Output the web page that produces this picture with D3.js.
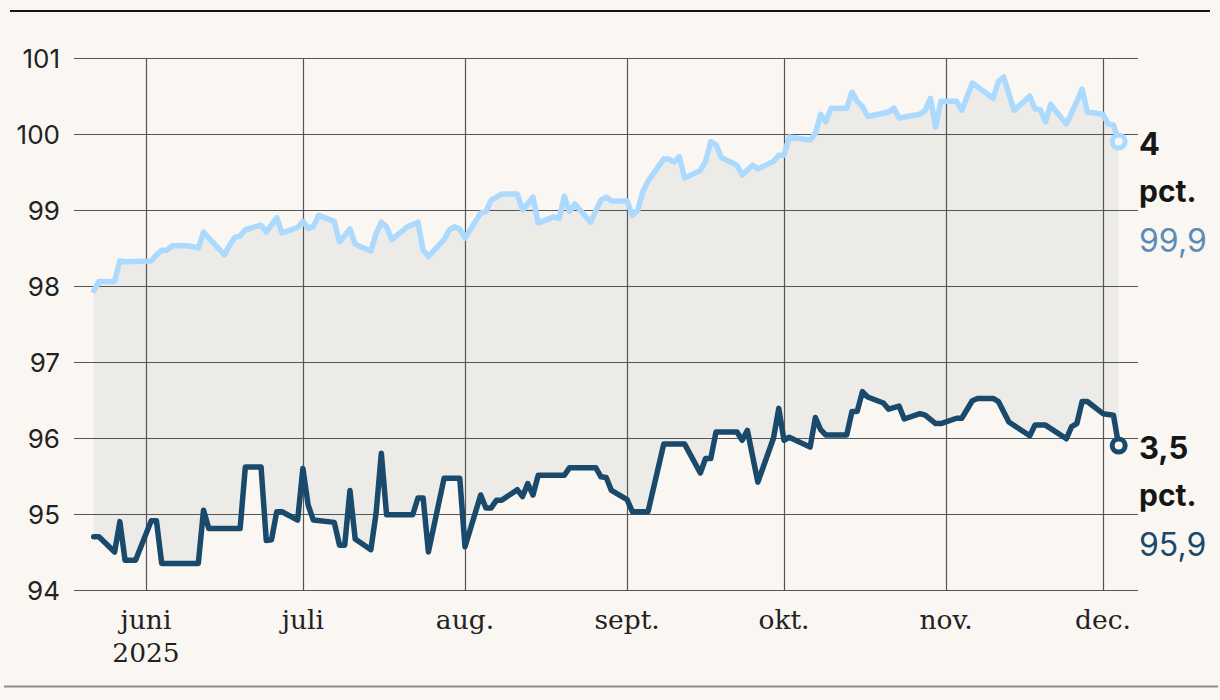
<!DOCTYPE html>
<html>
<head>
<meta charset="utf-8">
<script src="https://cdn.jsdelivr.net/npm/d3@7"></script>
<style>
  html, body { margin: 0; padding: 0; background: #faf7f2; }
  svg { display: block; }
</style>
</head>
<body>
<svg id="chart" width="1220" height="700"></svg>
<script>
// ---- Data ----
const lightDates = ["2025-05-22","2025-05-23","2025-05-26","2025-05-27","2025-05-28","2025-06-02","2025-06-03","2025-06-04","2025-06-05","2025-06-06","2025-06-09","2025-06-11","2025-06-12","2025-06-16","2025-06-17","2025-06-18","2025-06-19","2025-06-20","2025-06-23","2025-06-24","2025-06-26","2025-06-27","2025-06-30","2025-07-01","2025-07-02","2025-07-03","2025-07-04","2025-07-07","2025-07-08","2025-07-10","2025-07-11","2025-07-14","2025-07-15","2025-07-16","2025-07-17","2025-07-18","2025-07-21","2025-07-23","2025-07-24","2025-07-25","2025-07-28","2025-07-29","2025-07-30","2025-07-31","2025-08-01","2025-08-04","2025-08-05","2025-08-06","2025-08-08","2025-08-11","2025-08-12","2025-08-14","2025-08-15","2025-08-18","2025-08-19","2025-08-20","2025-08-21","2025-08-22","2025-08-25","2025-08-27","2025-08-28","2025-08-29","2025-09-01","2025-09-02","2025-09-03","2025-09-04","2025-09-05","2025-09-08","2025-09-09","2025-09-10","2025-09-11","2025-09-12","2025-09-15","2025-09-16","2025-09-17","2025-09-18","2025-09-19","2025-09-22","2025-09-23","2025-09-25","2025-09-26","2025-09-29","2025-09-30","2025-10-01","2025-10-02","2025-10-06","2025-10-07","2025-10-08","2025-10-09","2025-10-10","2025-10-13","2025-10-14","2025-10-15","2025-10-16","2025-10-17","2025-10-21","2025-10-22","2025-10-23","2025-10-27","2025-10-28","2025-10-29","2025-10-30","2025-10-31","2025-11-03","2025-11-04","2025-11-06","2025-11-10","2025-11-11","2025-11-12","2025-11-14","2025-11-17","2025-11-18","2025-11-19","2025-11-20","2025-11-21","2025-11-24","2025-11-26","2025-11-27","2025-11-28","2025-12-01","2025-12-02","2025-12-03","2025-12-04"];
const lightValues = [97.94,98.06,98.06,98.33,98.32,98.33,98.41,98.47,98.47,98.53,98.53,98.50,98.71,98.41,98.54,98.64,98.66,98.74,98.80,98.71,98.90,98.70,98.77,98.85,98.76,98.78,98.93,98.85,98.58,98.75,98.55,98.46,98.69,98.84,98.78,98.61,98.78,98.84,98.47,98.39,98.61,98.74,98.78,98.75,98.63,98.96,98.98,99.13,99.21,99.21,99.00,99.17,98.83,98.91,98.89,99.18,98.98,99.08,98.84,99.13,99.17,99.12,99.12,98.93,98.99,99.24,99.38,99.67,99.67,99.63,99.70,99.42,99.52,99.64,99.90,99.86,99.69,99.59,99.46,99.59,99.54,99.64,99.72,99.72,99.96,99.92,100.01,100.26,100.16,100.34,100.34,100.55,100.43,100.36,100.23,100.29,100.34,100.21,100.26,100.31,100.47,100.09,100.43,100.43,100.31,100.67,100.47,100.69,100.75,100.31,100.50,100.33,100.32,100.16,100.39,100.13,100.43,100.59,100.29,100.26,100.13,100.12,99.90];

const darkDates = ["2025-05-22","2025-05-23","2025-05-26","2025-05-27","2025-05-28","2025-05-30","2025-06-02","2025-06-03","2025-06-04","2025-06-11","2025-06-12","2025-06-13","2025-06-19","2025-06-20","2025-06-23","2025-06-24","2025-06-25","2025-06-26","2025-06-27","2025-06-30","2025-07-01","2025-07-02","2025-07-03","2025-07-07","2025-07-08","2025-07-09","2025-07-10","2025-07-11","2025-07-14","2025-07-15","2025-07-16","2025-07-17","2025-07-22","2025-07-23","2025-07-24","2025-07-25","2025-07-28","2025-07-31","2025-08-01","2025-08-04","2025-08-05","2025-08-06","2025-08-07","2025-08-08","2025-08-11","2025-08-12","2025-08-13","2025-08-14","2025-08-15","2025-08-20","2025-08-21","2025-08-26","2025-08-27","2025-08-28","2025-08-29","2025-09-01","2025-09-02","2025-09-05","2025-09-08","2025-09-12","2025-09-15","2025-09-16","2025-09-17","2025-09-18","2025-09-22","2025-09-23","2025-09-24","2025-09-26","2025-09-29","2025-09-30","2025-10-01","2025-10-02","2025-10-06","2025-10-07","2025-10-08","2025-10-09","2025-10-13","2025-10-14","2025-10-15","2025-10-16","2025-10-17","2025-10-20","2025-10-21","2025-10-23","2025-10-24","2025-10-27","2025-10-28","2025-10-30","2025-10-31","2025-11-03","2025-11-04","2025-11-06","2025-11-07","2025-11-10","2025-11-11","2025-11-13","2025-11-17","2025-11-18","2025-11-20","2025-11-24","2025-11-25","2025-11-26","2025-11-27","2025-11-28","2025-12-01","2025-12-03","2025-12-04"];
const darkValues = [94.70,94.70,94.50,94.90,94.39,94.39,94.91,94.91,94.35,94.35,95.05,94.81,94.81,95.62,95.62,94.65,94.66,95.03,95.03,94.92,95.60,95.12,94.92,94.89,94.59,94.59,95.31,94.67,94.53,95.01,95.80,94.99,94.99,95.21,95.21,94.50,95.47,95.47,94.57,95.25,95.08,95.08,95.18,95.18,95.32,95.23,95.40,95.25,95.51,95.51,95.61,95.61,95.49,95.48,95.31,95.19,95.03,95.03,95.92,95.92,95.54,95.73,95.73,96.08,96.08,95.97,96.10,95.42,96.00,96.39,95.97,96.01,95.88,96.27,96.11,96.04,96.04,96.35,96.35,96.61,96.54,96.46,96.38,96.42,96.25,96.32,96.30,96.19,96.19,96.26,96.26,96.49,96.52,96.52,96.48,96.21,96.03,96.17,96.17,95.99,96.15,96.19,96.48,96.48,96.32,96.30,95.90];

const yTicks = [94, 95, 96, 97, 98, 99, 100, 101];
const monthTicks = ["2025-06-01","2025-07-01","2025-08-01","2025-09-01","2025-10-01","2025-11-01","2025-12-01"];
const monthLabels = ["juni","juli","aug.","sept.","okt.","nov.","dec."];
const yearLabel = "2025";

const endLabels = [
  { big: "4", unit: "pct.", value: "99,9" },
  { big: "3,5", unit: "pct.", value: "95,9" }
];

// ---- Setup ----
const parse = d3.utcParse("%Y-%m-%d");
const light = lightDates.map((d, i) => ({ date: parse(d), v: lightValues[i] }));
const dark = darkDates.map((d, i) => ({ date: parse(d), v: darkValues[i] }));

const svg = d3.select("#chart");
const bg = "#faf7f2";
const lightColor = "#acdafe";
const darkColor = "#1a4a6b";

const x = d3.scaleUtc()
  .domain([parse("2025-06-01"), parse("2025-12-01")])
  .range([146, 1103]);
const y = d3.scaleLinear().domain([94, 101]).range([590, 58]);

const gridLeft = 74, gridRight = 1138;

// Top / bottom rules
svg.append("line").attr("x1", 10).attr("x2", 1210).attr("y1", 11).attr("y2", 11)
  .attr("stroke", "#161616").attr("stroke-width", 2);
svg.append("line").attr("x1", 4).attr("x2", 1218).attr("y1", 686.5).attr("y2", 686.5)
  .attr("stroke", "#8f8c88").attr("stroke-width", 2);

// Shaded band between series
const bandPts = light.concat(dark.slice().reverse());
const bandLine = d3.line().x(d => x(d.date)).y(d => y(d.v));
svg.append("path")
  .attr("d", bandLine(bandPts) + "Z")
  .attr("fill", "#edebe7");

// Gridlines
const grid = svg.append("g");
grid.selectAll("line.h").data(yTicks).join("line")
  .attr("x1", gridLeft).attr("x2", gridRight)
  .attr("y1", d => Math.round(y(d)) + 0.5).attr("y2", d => Math.round(y(d)) + 0.5)
  .attr("stroke", "#555").attr("stroke-width", 1.2);
grid.selectAll("line.v").data(monthTicks).join("line")
  .attr("x1", d => Math.round(x(parse(d))) + 0.5).attr("x2", d => Math.round(x(parse(d))) + 0.5)
  .attr("y1", y(101)).attr("y2", y(94))
  .attr("stroke", "#555").attr("stroke-width", 1.2);

// Y labels
svg.append("g").selectAll("text").data(yTicks).join("text")
  .attr("x", 60).attr("y", d => y(d) + 9.5)
  .attr("text-anchor", "end")
  .attr("font-family", "Inter, 'Noto Sans', sans-serif")
  .attr("font-size", 26)
  .attr("fill", "#222")
  .text(d => d);

// X labels
svg.append("g").selectAll("text").data(monthTicks).join("text")
  .attr("x", d => x(parse(d)))
  .attr("y", 629)
  .attr("text-anchor", "middle")
  .attr("font-family", "'DejaVu Serif', serif")
  .attr("font-size", 26.5)
  .attr("fill", "#222")
  .text((d, i) => monthLabels[i]);
svg.append("text")
  .attr("x", x(parse(monthTicks[0])))
  .attr("y", 662)
  .attr("text-anchor", "middle")
  .attr("font-family", "'DejaVu Serif', serif")
  .attr("font-size", 26.5)
  .attr("fill", "#222")
  .text(yearLabel);

// Lines
const line = d3.line().x(d => x(d.date)).y(d => y(d.v));
svg.append("path").datum(light).attr("d", line)
  .attr("fill", "none").attr("stroke", lightColor).attr("stroke-width", 5.5)
  .attr("stroke-linejoin", "round").attr("stroke-linecap", "round");
svg.append("path").datum(dark).attr("d", line)
  .attr("fill", "none").attr("stroke", darkColor).attr("stroke-width", 5.5)
  .attr("stroke-linejoin", "round").attr("stroke-linecap", "round");

// End markers
const lastL = light[light.length - 1], lastD = dark[dark.length - 1];
[[lastL, lightColor], [lastD, darkColor]].forEach(([p, c]) => {
  svg.append("circle").attr("cx", x(p.date)).attr("cy", y(p.v)).attr("r", 6.5)
    .attr("fill", bg).attr("stroke", c).attr("stroke-width", 5);
});

// End labels
const labelX = 1139;
const labelSets = [
  { base: y(lastL.v), color: "#5a8db6", info: endLabels[0] },
  { base: y(lastD.v), color: darkColor, info: endLabels[1] }
];
labelSets.forEach(s => {
  const g = svg.append("g").attr("font-family", "Inter, 'Noto Sans', sans-serif");
  g.append("text").attr("x", labelX).attr("y", s.base + 13)
    .attr("font-size", 31).attr("font-weight", 700).attr("fill", "#161616").text(s.info.big);
  g.append("text").attr("x", labelX).attr("y", s.base + 60)
    .attr("font-size", 30).attr("font-weight", 700).attr("fill", "#161616").text(s.info.unit);
  g.append("text").attr("x", labelX).attr("y", s.base + 110)
    .attr("font-size", 32).attr("font-weight", 400).attr("fill", s.color).text(s.info.value);
});
</script>
</body>
</html>
